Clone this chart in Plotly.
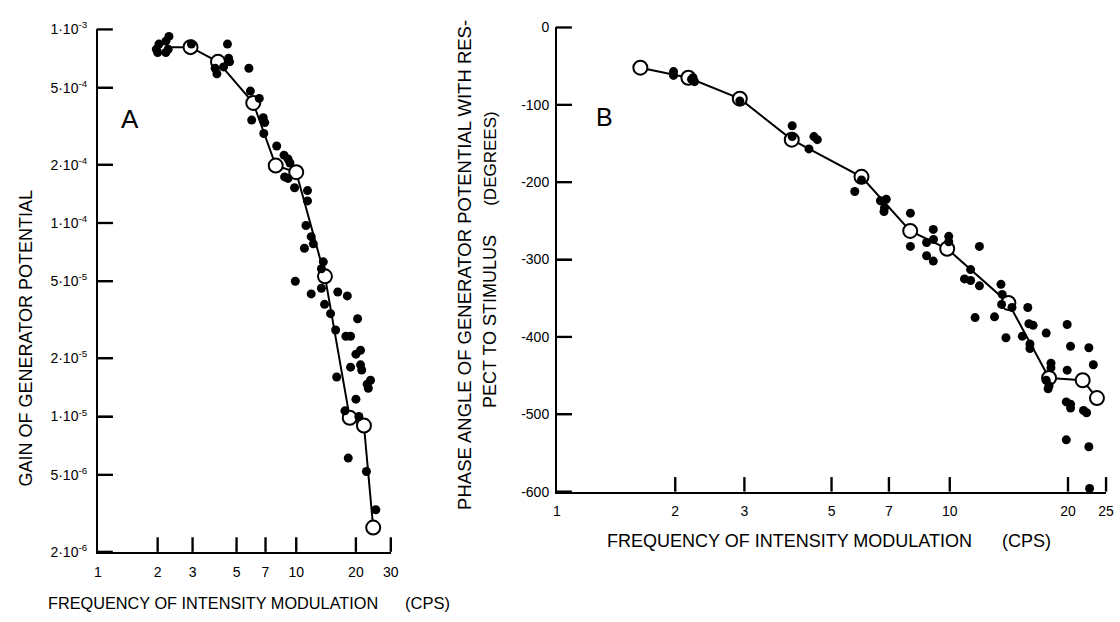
import plotly.graph_objects as go
import math

W, H = 1120, 622

# ---------------- Panel A data (gain vs frequency) ----------------
a_dot_freq = [2.28, 2.20, 2.03, 1.97, 2.00, 2.20, 2.26, 2.96, 4.50, 4.56, 4.61, 4.30, 3.98, 3.90,
              5.77, 5.87, 6.51, 5.96, 6.82, 6.94, 6.86, 7.97, 8.68, 9.09, 9.30, 8.74, 9.09, 9.81,
              11.4, 11.4, 11.2, 11.9, 12.2, 11.0, 13.7, 13.4, 9.89, 13.4, 11.9, 16.2, 18.1,
              13.9, 14.9, 20.4, 15.8, 17.8, 18.8, 20.0, 21.1, 18.8, 21.1, 21.4, 16.0,
              23.7, 22.8, 23.1, 20.0, 17.6, 20.7, 18.3, 22.6, 25.2]
a_dot_gain = [9.2e-4, 8.7e-4, 8.4e-4, 7.9e-4, 7.6e-4, 7.6e-4, 7.9e-4, 8.4e-4, 8.4e-4, 7.1e-4, 6.8e-4, 6.4e-4, 5.9e-4, 6.3e-4,
              6.3e-4, 4.8e-4, 4.4e-4, 3.4e-4, 3.5e-4, 3.3e-4, 2.9e-4, 2.5e-4, 2.24e-4, 2.14e-4, 2.04e-4, 1.73e-4, 1.70e-4, 1.52e-4,
              1.47e-4, 1.30e-4, 9.7e-5, 8.5e-5, 7.8e-5, 7.4e-5, 6.3e-5, 5.8e-5, 5.0e-5, 4.6e-5, 4.3e-5, 4.4e-5, 4.2e-5,
              3.8e-5, 3.4e-5, 3.2e-5, 2.8e-5, 2.6e-5, 2.6e-5, 2.1e-5, 2.2e-5, 1.8e-5, 1.85e-5, 1.74e-5, 1.6e-5,
              1.54e-5, 1.47e-5, 1.40e-5, 1.23e-5, 1.07e-5, 1.0e-5, 6.1e-6, 5.2e-6, 3.3e-6]
a_open_freq = [2.93, 4.03, 6.07, 7.88, 10.0, 13.96, 18.62, 21.96, 24.45]
a_open_gain = [8.1e-4, 6.8e-4, 4.17e-4, 1.98e-4, 1.83e-4, 5.3e-5, 9.85e-6, 8.98e-6, 2.67e-6]
a_line_freq = [2.28, 2.93, 4.03, 6.07, 7.88, 10.0, 13.96, 18.62, 21.96, 24.45]
a_line_gain = [8.1e-4, 8.1e-4, 6.8e-4, 4.17e-4, 1.98e-4, 1.83e-4, 5.3e-5, 9.85e-6, 8.98e-6, 2.67e-6]

a_x_ticks = [1, 2, 3, 5, 7, 10, 20, 30]
a_x_labels = ["1", "2", "3", "5", "7", "10", "20", "30"]
a_y_ticks = [1e-3, 5e-4, 2e-4, 1e-4, 5e-5, 2e-5, 1e-5, 5e-6, 2e-6]
a_y_labels = ["1\u00b710<sup>-3</sup>", "5\u00b710<sup>-4</sup>", "2\u00b710<sup>-4</sup>", "1\u00b710<sup>-4</sup>",
              "5\u00b710<sup>-5</sup>", "2\u00b710<sup>-5</sup>", "1\u00b710<sup>-5</sup>", "5\u00b710<sup>-6</sup>",
              "2\u00b710<sup>-6</sup>"]

# ---------------- Panel B data (phase vs frequency) ----------------
b_dot_freq = [1.98, 1.98, 2.22, 2.24, 2.20, 2.92, 3.97, 3.97, 4.51, 4.60, 4.38, 5.96, 5.73, 6.66, 6.89, 6.82, 6.80,
              7.94, 7.94, 9.08, 9.09, 8.73, 8.73, 9.08, 9.94, 9.94, 11.9, 11.3, 10.9, 11.3, 11.9,
              13.5, 13.6, 13.55, 14.4, 15.8, 11.6, 13.0, 15.9, 16.3, 19.9, 13.9, 15.3, 16.0, 16.0, 17.6,
              20.3, 22.6, 23.2, 19.9, 18.1, 18.1, 17.6, 17.9, 17.8, 19.8, 20.3, 20.3, 21.9, 22.3, 19.8, 22.6, 22.7]
b_dot_phase = [-57, -62, -65, -70, -67, -95, -127, -141, -141, -145, -157, -197, -212, -224, -222, -233, -238,
               -240, -283, -261, -274, -278, -295, -302, -270, -277, -283, -313, -325, -327, -334,
               -332, -345, -358, -362, -362, -375, -374, -383, -385, -384, -401, -399, -409, -415, -395,
               -412, -414, -436, -443, -434, -440, -456, -463, -467, -484, -487, -492, -495, -498, -533, -542, -596]
b_open_freq = [1.63, 2.16, 2.92, 3.96, 5.96, 7.93, 9.85, 14.1, 17.9, 21.8, 23.7]
b_open_phase = [-52, -65, -92, -145, -193, -263, -286, -356, -453, -456, -479]

b_x_ticks = [1, 2, 3, 5, 7, 10, 20, 25]
b_x_labels = ["1", "2", "3", "5", "7", "10", "20", "25"]
b_y_ticks = [0, -100, -200, -300, -400, -500, -600]
b_y_labels = ["0", "-100", "-200", "-300", "-400", "-500", "-600"]

TITLE_FONT = "Liberation Sans, Arial, sans-serif"
TICK_FONT = "Liberation Sans, Arial, sans-serif"

# axis geometry (pixels in the 1120x622 page)
A_X0, A_X1, A_Y0, A_Y1 = 95, 391, 558, 20
B_X0, B_X1, B_Y0, B_Y1 = 559, 1114, 496, 18
A_XRANGE = [0, math.log10(30)]
A_YRANGE = [math.log10(2e-6), -3]
B_XRANGE = [0, math.log10(25)]
B_YRANGE = [-600, 0]
TICKLEN = 15
TICKW = 2.4

fig = go.Figure()

def add_panel(xa, ya, line_x, line_y, open_x, open_y, dot_x, dot_y):
    fig.add_trace(go.Scatter(x=line_x, y=line_y, mode="lines", line=dict(color="black", width=2),
                             xaxis=xa, yaxis=ya, cliponaxis=False, hoverinfo="skip", showlegend=False))
    fig.add_trace(go.Scatter(x=open_x, y=open_y, mode="markers",
                             marker=dict(symbol="circle", size=14, color="white", line=dict(color="black", width=2)),
                             xaxis=xa, yaxis=ya, cliponaxis=False, showlegend=False))
    fig.add_trace(go.Scatter(x=dot_x, y=dot_y, mode="markers",
                             marker=dict(symbol="circle", size=9, color="black", line=dict(width=0)),
                             xaxis=xa, yaxis=ya, cliponaxis=False, showlegend=False))

add_panel("x", "y", a_line_freq, a_line_gain, a_open_freq, a_open_gain, a_dot_freq, a_dot_gain)
add_panel("x2", "y2", b_open_freq, b_open_phase, b_open_freq, b_open_phase, b_dot_freq, b_dot_phase)

axis_common = dict(showline=True, linecolor="black", linewidth=2, showgrid=False, zeroline=False,
                   tickfont=dict(family=TICK_FONT, size=14, color="black"))
ytick_native = dict(ticks="inside", ticklen=TICKLEN, tickwidth=2, tickcolor="black")

def px_x(p):
    return p / W

def px_y(p):
    return 1 - p / H

fig.update_layout(
    width=W, height=H, margin=dict(l=0, r=0, t=0, b=0), autosize=False,
    paper_bgcolor="white", plot_bgcolor="rgba(0,0,0,0)", showlegend=False,
    xaxis=dict(axis_common, ticks="", type="log", domain=[px_x(A_X0), px_x(A_X1)], range=A_XRANGE,
               tickvals=a_x_ticks, ticktext=a_x_labels, anchor="y", ticklabelstandoff=6),
    yaxis=dict(axis_common, **ytick_native, type="log", domain=[px_y(A_Y0), px_y(A_Y1)], range=A_YRANGE,
               tickvals=a_y_ticks, ticktext=a_y_labels, anchor="x", ticklabelstandoff=6),
    xaxis2=dict(axis_common, ticks="", type="log", domain=[px_x(B_X0), px_x(B_X1)], range=B_XRANGE,
                tickvals=b_x_ticks, ticktext=b_x_labels, anchor="y2", ticklabelstandoff=6),
    yaxis2=dict(axis_common, **ytick_native, domain=[px_y(B_Y0), px_y(B_Y1)], range=B_YRANGE,
                tickvals=b_y_ticks, ticktext=b_y_labels, anchor="x2", ticklabelstandoff=3),
)

# tick marks as small filled bars (non-zero size in both directions), placed from the tick values
def frac(v, rng, log):
    val = math.log10(v) if log else v
    return (val - rng[0]) / (rng[1] - rng[0])

def xtick(v, rng, x0, x1, ybot):
    px = x0 + frac(v, rng, True) * (x1 - x0)
    fig.add_shape(type="rect", xref="paper", yref="paper",
                  x0=px_x(px - TICKW / 2), x1=px_x(px + TICKW / 2),
                  y0=px_y(ybot), y1=px_y(ybot - TICKLEN),
                  fillcolor="black", line=dict(width=0), layer="above")

def ytick(v, rng, log, y0, y1, xleft):
    py = y0 + frac(v, rng, log) * (y1 - y0)
    fig.add_shape(type="rect", xref="paper", yref="paper",
                  x0=px_x(xleft - 1), x1=px_x(xleft + TICKLEN),
                  y0=px_y(py - TICKW / 2), y1=px_y(py + TICKW / 2),
                  fillcolor="black", line=dict(width=0), layer="above")

for v in a_x_ticks[1:]:
    xtick(v, A_XRANGE, A_X0, A_X1, A_Y0)
for v in b_x_ticks[1:]:
    xtick(v, B_XRANGE, B_X0, B_X1, B_Y0)
for v in a_y_ticks:
    ytick(v, A_YRANGE, True, A_Y0, A_Y1, A_X0)
for v in b_y_ticks:
    ytick(v, B_YRANGE, False, B_Y0, B_Y1, B_X0)

def ann(text, cx, cy, size, angle=0, family=TITLE_FONT):
    fig.add_annotation(text=text, x=px_x(cx), y=px_y(cy), xref="paper", yref="paper",
                       xanchor="center", yanchor="middle", showarrow=False, textangle=angle,
                       font=dict(family=family, size=size, color="black"))

# panel letters
ann("A", 127.5, 112.5, 26, family=TICK_FONT)
ann("B", 607.5, 110, 25, family=TICK_FONT)

# panel A titles
ann("FREQUENCY OF INTENSITY MODULATION", 211, 611, 16.3)
ann("(CPS)", 428, 611, 16.5)
ann("GAIN OF GENERATOR POTENTIAL", 22, 338.5, 18, angle=-90)

# panel B titles
ann("FREQUENCY OF INTENSITY MODULATION", 794, 547, 18)
ann("(CPS)", 1034, 547, 18)
ann("PHASE ANGLE OF GENERATOR POTENTIAL WITH RES-", 466, 262.5, 18.5, angle=-90)
ann("PECT TO STIMULUS", 491, 320.5, 18, angle=-90)
ann("(DEGREES)", 491, 153.5, 17, angle=-90)

fig.write_html("out.html")
